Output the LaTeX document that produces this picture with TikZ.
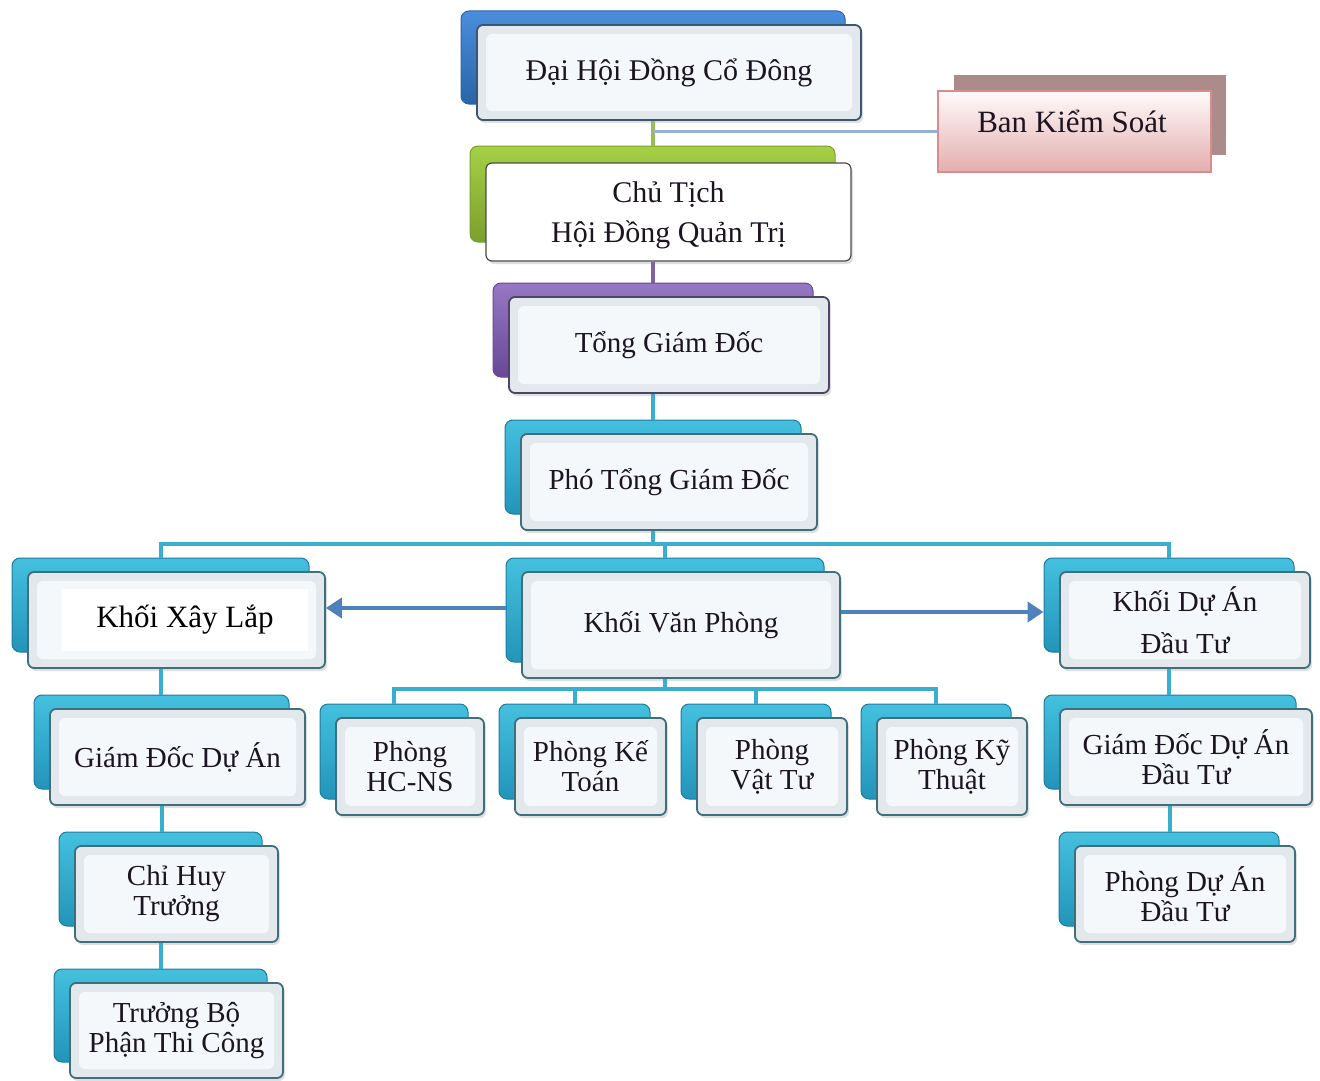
\documentclass[tikz,border=0pt]{standalone}
\usepackage{fontspec}
\setmainfont{Liberation Serif}
\usetikzlibrary{arrows.meta,shadows,calc}
\definecolor{tealtop}{HTML}{44C0DE}
\definecolor{tealbot}{HTML}{2394BA}
\definecolor{tealdraw}{HTML}{1E7C9C}
\definecolor{frontdraw}{HTML}{3F6E7C}
\definecolor{bevelc}{HTML}{E2E8EC}
\definecolor{innerc}{HTML}{F4F8FB}
\definecolor{conncol}{HTML}{3AAECF}
\definecolor{arrcol}{HTML}{4F81BD}
\definecolor{textc}{HTML}{1C1420}
\definecolor{bluetop}{HTML}{4A8EDC}
\definecolor{bluebot}{HTML}{2B64A6}
\definecolor{bluefront}{HTML}{3C5570}
\definecolor{greentop}{HTML}{A6D046}
\definecolor{greenbot}{HTML}{7A9F2E}
\definecolor{purptop}{HTML}{9678C4}
\definecolor{purpbot}{HTML}{694895}
\definecolor{purpfront}{HTML}{4E4468}
\definecolor{greenline}{HTML}{9BBB59}
\definecolor{purpline}{HTML}{8064A2}
\definecolor{bksline}{HTML}{95B3D7}
\definecolor{bksback}{HTML}{AD8B8B}
\definecolor{bkstop}{HTML}{FFFAFA}
\definecolor{bksbot}{HTML}{E4AEAE}
\definecolor{bksdraw}{HTML}{D98C8C}
\tikzset{
  x=1pt, y=1pt,
  backbox/.style={rectangle, rounded corners=8pt, top color=tealtop, bottom color=tealbot, draw=tealdraw, line width=1pt},
  bluebox/.style={top color=bluetop, bottom color=bluebot, draw=bluebot},
  greenbox/.style={top color=greentop, bottom color=greenbot, draw=greenbot},
  purpbox/.style={top color=purptop, bottom color=purpbot, draw=purpbot},
  frontbox/.style={rectangle, rounded corners=6pt, draw=frontdraw, line width=1.8pt, fill=bevelc,
    align=center, text=textc, font=\fontsize{29}{30}\selectfont, inner sep=0pt,
    drop shadow={opacity=0.25, shadow xshift=2pt, shadow yshift=-3pt},
    path picture={\fill[innerc] ([shift={(9pt,-9pt)}]path picture bounding box.north west) rectangle ([shift={(-9pt,9pt)}]path picture bounding box.south east);}},
  conn/.style={draw=conncol, line width=4pt},
  arr/.style={draw=arrcol, line width=4pt, -{Triangle[length=16pt,width=20pt]}},
}
% #1 name, #2 cx, #3 cy (pixels down), #4 width, #5 height, #6 back style, #7 front options, #8 text
\newcommand\OrgB[8]{%
  \node[backbox,#6,minimum width=#4,minimum height=#5-2] (#1-b) at (#2-16,-#3+15) {};
  \node[frontbox,#7,minimum width=#4,minimum height=#5] (#1) at (#2,-#3) {#8};
}
\begin{document}
\begin{tikzpicture}
\useasboundingbox (0,0) rectangle (1320,-1081);
\fill[white] (0,0) rectangle (1320,-1081);

% top chain
\OrgB{dh}{669}{72.5}{384}{95}{bluebox}{draw=bluefront, font=\fontsize{30}{30}\selectfont}{Đại Hội Đồng Cổ Đông}
\OrgB{ct}{668.5}{209}{365}{98}{greenbox}{draw=black!70, line width=1.2pt, path picture={}, fill=white, font=\fontsize{30}{40}\selectfont, text depth=0pt, yshift=-3pt}{Chủ Tịch\\Hội Đồng Quản Trị}
\OrgB{tg}{669}{345}{320}{96}{purpbox}{draw=purpfront}{Tổng Giám Đốc}
\OrgB{pt}{669}{482}{296}{96}{}{}{Phó Tổng Giám Đốc}

% Ban Kiem Soat
\node[rectangle, fill=bksback, minimum width=272, minimum height=80] (bks-b) at (1090,-115) {};
\node[rectangle, top color=bkstop, bottom color=bksbot, draw=bksdraw, line width=1.5pt, minimum width=273, minimum height=81] (bks) at (1074.5,-131.5) {};
\node[text=textc, font=\fontsize{31}{31}\selectfont, inner sep=0pt] (bks-t) at (1072,-121) {Ban Kiểm Soát};

% second level
\OrgB{kxl}{176.5}{620}{297}{96}{}{}{}
\node[fill=white, minimum width=246, minimum height=62, inner sep=0pt, font=\fontsize{31}{32}\selectfont, text=black] (kxl-t) at (185,-620) {Khối Xây Lắp};
\OrgB{kvp}{681}{625}{318}{106}{}{}{Khối Văn Phòng}
\OrgB{kda}{1185}{620}{250}{96}{}{font=\fontsize{29}{42}\selectfont}{Khối Dự Án\\Đầu Tư}

% left column
\OrgB{gd}{177.5}{757}{255}{96}{}{}{Giám Đốc Dự Án}
\OrgB{ch}{176.5}{894}{203}{96}{}{}{Chỉ Huy\\Trưởng}
\OrgB{tb}{176.5}{1030.5}{213}{95}{}{}{Trưởng Bộ\\Phận Thi Công}

% departments
\OrgB{p1}{410}{766.5}{148}{97}{}{}{Phòng\\HC-NS}
\OrgB{p2}{590.5}{766.5}{151}{97}{}{}{Phòng Kế\\Toán}
\OrgB{p3}{772}{766.5}{150}{97}{}{}{Phòng\\Vật Tư}
\OrgB{p4}{952}{766.5}{150}{97}{}{}{Phòng Kỹ\\Thuật}

% right column
\OrgB{gdt}{1186}{757}{252}{96}{}{}{Giám Đốc Dự Án\\Đầu Tư}
\OrgB{pda}{1185}{894}{220}{96}{}{}{Phòng Dự Án\\Đầu Tư}

% helper coordinates
\coordinate (busA) at (0,-544);
\coordinate (busB) at (0,-689);
\coordinate (arrL) at (0,-608);
\coordinate (arrR) at (0,-612);

% connectors top
\draw[draw=greenline, line width=4pt] (dh-b.south |- dh.south) -- (dh-b.south |- ct-b.north);
\draw[draw=bksline, line width=3.5pt] (dh-b.south |- bks.west) -- (bks.west);
\draw[draw=purpline, line width=4pt] (ct-b.south |- ct.south) -- (ct-b.south |- tg-b.north);
\draw[conn] (tg-b.south |- tg.south) -- (tg-b.south |- pt-b.north);
\draw[conn] (pt-b.south |- pt.south) -- (pt-b.south |- busA);
\draw[conn] (kxl-b.north) -- (kxl-b.north |- busA) -- (kda-b.north |- busA) -- (kda-b.north);
\draw[conn] (kvp-b.north) -- (kvp-b.north |- busA);

% departments bus
\draw[conn] (kvp-b.south |- kvp.south) -- (kvp-b.south |- busB);
\draw[conn] (p1-b.north) -- (p1-b.north |- busB) -- (p4-b.north |- busB) -- (p4-b.north);
\draw[conn] (p2-b.north) -- (p2-b.north |- busB);
\draw[conn] (p3-b.north) -- (p3-b.north |- busB);

% columns
\draw[conn] (kxl-b.south |- kxl.south) -- (kxl-b.south |- gd-b.north);
\draw[conn] (gd-b.south |- gd.south) -- (gd-b.south |- ch-b.north);
\draw[conn] (ch-b.south |- ch.south) -- (ch-b.south |- tb-b.north);
\draw[conn] (kda-b.south |- kda.south) -- (kda-b.south |- gdt-b.north);
\draw[conn] (gdt-b.south |- gdt.south) -- (gdt-b.south |- pda-b.north);

% arrows
\draw[arr] (kvp-b.west |- arrL) -- (kxl.east |- arrL);
\draw[arr] (kvp.east |- arrR) -- (kda-b.west |- arrR);
\end{tikzpicture}
\end{document}
